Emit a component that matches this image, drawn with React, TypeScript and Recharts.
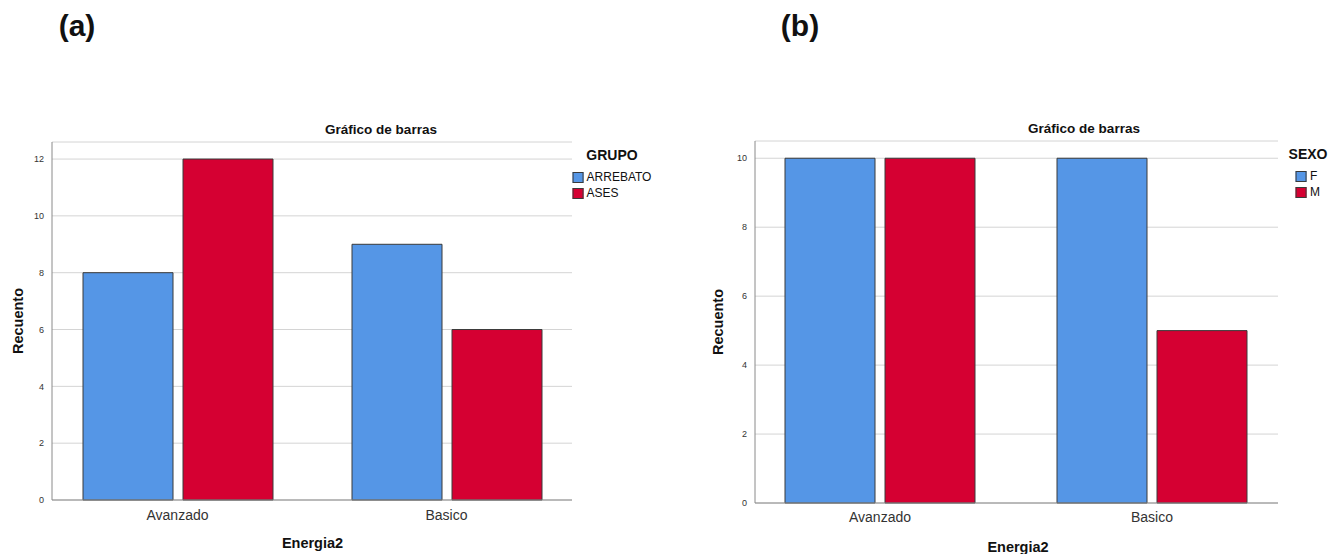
import React from 'react';
import { BarChart, Bar, XAxis, YAxis, CartesianGrid } from 'recharts';

// Datos
const categorias = ['Avanzado', 'Basico'];
const arrebato = [8, 9];
const ases = [12, 6];
const femenino = [10, 10];
const masculino = [10, 5];
const ticksA = [0, 2, 4, 6, 8, 10, 12];
const ticksB = [0, 2, 4, 6, 8, 10];

const AZUL = '#5596E6';
const ROJO = '#D50032';
const BORDE = '#3a3a3a';
const GRID = '#d4d4d4';
const EJE = '#8a8a8a';
const FONT = '"Liberation Sans", Arial, sans-serif';

const dataA = categorias.map((c, i) => ({ name: c, ARREBATO: arrebato[i], ASES: ases[i] }));
const dataB = categorias.map((c, i) => ({ name: c, F: femenino[i], M: masculino[i] }));

function Texto({ x, y, size, bold, rotate, children }: { x: number; y: number; size: number; bold?: boolean; rotate?: boolean; children: React.ReactNode }) {
  return (
    <div
      style={{
        position: 'absolute',
        left: x,
        top: y,
        transform: `translate(-50%, -50%)${rotate ? ' rotate(-90deg)' : ''}`,
        fontSize: size,
        fontWeight: bold ? 'bold' : 'normal',
        fontFamily: FONT,
        color: '#111',
        whiteSpace: 'nowrap',
        lineHeight: 1,
      }}
    >
      {children}
    </div>
  );
}

// leyenda centrada bajo su título, como en SPSS
function Leyenda({ cx, y, titulo, items }: { cx: number; y: number; titulo: string; items: { label: string; color: string }[] }) {
  return (
    <div
      style={{
        position: 'absolute',
        left: cx,
        top: y,
        transform: 'translateX(-50%)',
        display: 'flex',
        flexDirection: 'column',
        alignItems: 'center',
        fontFamily: FONT,
        color: '#111',
      }}
    >
      <div style={{ fontSize: 14, fontWeight: 'bold', lineHeight: '16px', marginBottom: 6 }}>{titulo}</div>
      <div>
        {items.map((it) => (
          <div key={it.label} style={{ display: 'flex', alignItems: 'center', height: 16 }}>
            <span style={{ width: 9, height: 9, background: it.color, border: `1px solid ${BORDE}`, marginRight: 3 }} />
            <span style={{ fontSize: 12 }}>{it.label}</span>
          </div>
        ))}
      </div>
    </div>
  );
}

const tickX = { fontSize: 14, fill: '#333', fontFamily: FONT };
const tickY = { fontSize: 9, fill: '#333', fontFamily: FONT };

export default function App() {
  return (
    <div style={{ position: 'absolute', left: 0, top: 0, width: 1342, height: 554, background: '#fff', overflow: 'hidden' }}>
      <Texto x={77} y={26} size={30} bold>(a)</Texto>
      <Texto x={800} y={26} size={30} bold>(b)</Texto>

      {/* Gráfico (a) */}
      <div style={{ position: 'absolute', left: 0, top: 0 }}>
        <BarChart width={660} height={554} data={dataA} margin={{ top: 142, right: 88, bottom: 0, left: 32 }} barCategoryGap={40} barGap={10}>
          <CartesianGrid vertical={false} stroke={GRID} />
          <XAxis dataKey="name" height={54} tick={tickX} tickSize={0} tickMargin={10} axisLine={{ stroke: EJE }} padding={{ left: -9, right: -9 }} />
          <YAxis width={20} domain={[0, 12.6]} ticks={ticksA} tick={tickY} tickSize={0} tickMargin={8} axisLine={{ stroke: EJE }} />
          <Bar dataKey="ARREBATO" fill={AZUL} stroke={BORDE} strokeWidth={1} isAnimationActive={false} />
          <Bar dataKey="ASES" fill={ROJO} stroke={BORDE} strokeWidth={1} isAnimationActive={false} />
        </BarChart>
      </div>
      <Texto x={381} y={130} size={13.5} bold>Gráfico de barras</Texto>
      <Texto x={17.5} y={321} size={14.5} bold rotate>Recuento</Texto>
      <Texto x={312.5} y={543} size={14.5} bold>Energia2</Texto>
      <Leyenda cx={612} y={147} titulo="GRUPO" items={[{ label: 'ARREBATO', color: AZUL }, { label: 'ASES', color: ROJO }]} />

      {/* Gráfico (b) */}
      <div style={{ position: 'absolute', left: 680, top: 0 }}>
        <BarChart width={662} height={554} data={dataB} margin={{ top: 141, right: 64, bottom: 0, left: 55 }} barCategoryGap={41} barGap={10}>
          <CartesianGrid vertical={false} stroke={GRID} />
          <XAxis dataKey="name" height={51} tick={tickX} tickSize={0} tickMargin={9} axisLine={{ stroke: EJE }} padding={{ left: -11, right: -10 }} />
          <YAxis width={20} domain={[0, 10.5]} ticks={ticksB} tick={tickY} tickSize={0} tickMargin={8} axisLine={{ stroke: EJE }} />
          <Bar dataKey="F" fill={AZUL} stroke={BORDE} strokeWidth={1} isAnimationActive={false} />
          <Bar dataKey="M" fill={ROJO} stroke={BORDE} strokeWidth={1} isAnimationActive={false} />
        </BarChart>
      </div>
      <Texto x={1084} y={129} size={13.5} bold>Gráfico de barras</Texto>
      <Texto x={717.5} y={322} size={14.5} bold rotate>Recuento</Texto>
      <Texto x={1018} y={547} size={14.5} bold>Energia2</Texto>
      <Leyenda cx={1308} y={146} titulo="SEXO" items={[{ label: 'F', color: AZUL }, { label: 'M', color: ROJO }]} />
    </div>
  );
}
